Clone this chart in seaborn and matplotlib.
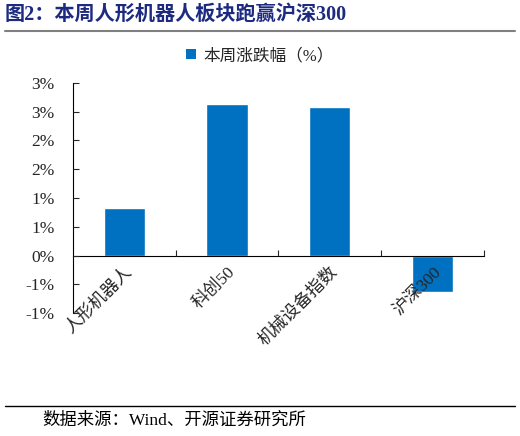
import numpy as np
import pandas as pd
import matplotlib
matplotlib.use('Agg')
import matplotlib.pyplot as plt
import seaborn as sns
from matplotlib.lines import Line2D
from matplotlib.patches import Patch

# data
categories = ['人形机器人', '科创50', '机械设备指数', '沪深300']
weekly_change = [0.82, 2.63, 2.58, -0.63]
y_ticks = [-1.0, -0.5, 0.0, 0.5, 1.0, 1.5, 2.0, 2.5, 3.0]
y_tick_labels = ['-1%', '-1%', '0%', '1%', '1%', '2%', '2%', '3%', '3%']
series_name = '本周涨跌幅（%）'
title = '图2：本周人形机器人板块跑赢沪深300'
source = '数据来源：Wind、开源证券研究所'

sns.set_style('white')
plt.rcParams['font.family'] = ['Liberation Serif', 'Noto Sans CJK SC', 'DejaVu Sans']

bar_color = '#0070C0'
df = pd.DataFrame({'cat': categories, 'val': weekly_change})

fig = plt.figure(figsize=(5.2, 4.36), dpi=100)
ax = fig.add_axes([0.14, 0.2815, 0.791, 0.5285])
sns.barplot(data=df, x='cat', y='val', color=bar_color, width=0.4,
            saturation=1, ax=ax)
ax.set_axisbelow(False)

ax.set_xlim(-0.5, len(categories) - 0.5)
ax.set_ylim(-1.0, 3.0)
ax.set_xlabel('')
ax.set_ylabel('')

# spines
for s in ['top', 'right']:
    ax.spines[s].set_visible(False)
ax.spines['left'].set_color('black')
ax.spines['left'].set_linewidth(0.8)
ax.spines['bottom'].set_position(('data', 0))
ax.spines['bottom'].set_color('black')
ax.spines['bottom'].set_linewidth(0.8)

# y ticks
ax.set_yticks(y_ticks)
ax.set_yticklabels(y_tick_labels, fontsize=12.5)
ax.tick_params(axis='y', direction='in', length=4, width=0.8, pad=13, left=True)

# x ticks: labels at centers, marks between categories
ax.set_xticks(range(len(categories)))
ax.set_xticklabels(categories, rotation=45, ha='right', rotation_mode='anchor',
                   fontsize=12.5)
ax.set_xticks(np.arange(0.5, len(categories), 1.0), minor=True)
ax.tick_params(axis='x', which='major', length=0, pad=6)
ax.tick_params(axis='x', which='minor', direction='in', length=4, width=0.8,
               bottom=True)

# legend
handle = Patch(facecolor=bar_color, edgecolor='none')
fig.legend([handle], [series_name], loc='center', bbox_to_anchor=(0.5, 1 - 56 / 436),
           frameon=False, fontsize=12, handlelength=0.6, handleheight=0.6,
           handletextpad=0.4)

# title and rules
fig.text(5 / 520, 1 - 15 / 436, title, fontsize=14.5, fontweight='bold',
         color='#1C2A80', ha='left', va='center')
fig.add_artist(Line2D([5 / 520, 515 / 520], [1 - 31 / 436, 1 - 31 / 436],
                      color='#808080', linewidth=1.5, transform=fig.transFigure))
fig.add_artist(Line2D([5 / 520, 515 / 520], [1 - 406 / 436, 1 - 406 / 436],
                      color='black', linewidth=1.0, transform=fig.transFigure))
fig.text(42 / 520, 1 - 421 / 436, source, fontsize=12.5, color='black',
         ha='left', va='center')

fig.savefig('out.png', dpi=100)
